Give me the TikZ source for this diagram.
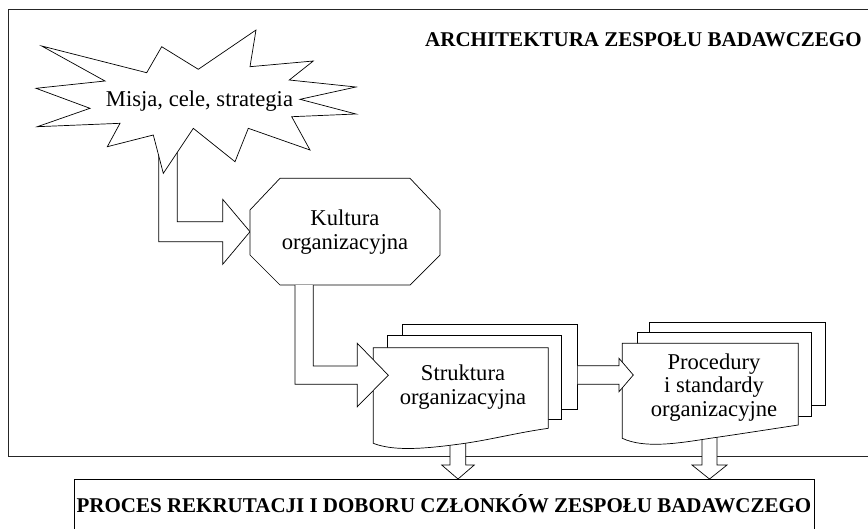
\documentclass[tikz,border=0pt]{standalone}
\usepackage{fontspec}
\setmainfont{Liberation Serif}
\begin{document}
\begin{tikzpicture}[x=1pt,y=-1pt,line width=0.7pt,line join=miter,
  shp/.style={draw=black,fill=white},
  blockarrow/.style={draw=black,fill=white},
  frm/.style={draw=black!85},
  txt/.style={font=\fontsize{22.6}{23.5}\selectfont,inner sep=0pt,align=center},
  ttl/.style={font=\bfseries\fontsize{21}{24}\selectfont,inner sep=0pt}]
\useasboundingbox (0,0) rectangle (868,528);
% frame and bottom box
\draw[frm] (8,9.5) rectangle (875,456.7);
\draw[black] (74,479) rectangle (814,540);
% down arrows
\draw[blockarrow] (450,430) -- (450,465) -- (441.7,465) -- (458,479) -- (474.3,465) -- (465.7,465) -- (465.7,430);
\draw[blockarrow] (702,420) -- (702,465) -- (692,465) -- (709.5,479) -- (727,465) -- (717,465) -- (717,420);
% arrow misja -> kultura
\draw[blockarrow] (158.7,140) -- (158.7,241.7) -- (222.7,241.7) -- (222.7,264.3) -- (250,231.7) -- (222.7,199.3) -- (222.7,221.7) -- (177.3,221.7) -- (177.3,140);
% star
\draw[shp] (41.7,46) -- (146.7,72.7) -- (161.7,46.7) -- (198.3,69.3) -- (256,30) -- (250,66.7)
  -- (313.3,61) -- (289.3,80) -- (356,87) -- (300,99.3) -- (356,114) -- (291.7,116.7)
  -- (310,150) -- (248.3,128.3) -- (235,161.7) -- (193.3,128.3) -- (163.3,173.3)
  -- (153.3,135) -- (107.3,146.7) -- (120,123.3) -- (37.3,126.7) -- (90,108.3)
  -- (36,88.3) -- (105,81) -- cycle;
% octagon
\draw[shp] (280,178.3) -- (410,178.3) -- (440,210) -- (440,255) -- (410,285) -- (280,285) -- (250,255) -- (250,210) -- cycle;
% Struktura stack
\draw[shp] (402.3,324.3) rectangle (577.7,409.3);
\draw[shp] (387.3,335) rectangle (561.7,419.3);
\draw[shp] (373.3,347.7) -- (548.3,347.7) -- (548.3,428.3) .. controls (515,433) and (490,440) .. (460,444) .. controls (430,448) and (395,452) .. (373.3,443.3) -- cycle;
% Procedury stack
\draw[shp] (649.3,322.3) rectangle (825,405);
\draw[shp] (637.3,332.7) rectangle (811,416);
\draw[shp] (622.3,343.3) -- (798.3,343.3) -- (798.3,425) .. controls (765,430) and (740,434) .. (710,438.3) .. controls (680,443) and (645,449) .. (622.3,438.3) -- cycle;
% arrow kultura -> struktura
\draw[blockarrow] (295,285) -- (295,384.3) -- (357.3,384.3) -- (357.3,406.7) -- (388.3,375.2) -- (357.3,343.3) -- (357.3,366) -- (313.3,366) -- (313.3,285);
% arrow struktura -> procedury
\draw[blockarrow] (577.7,365.7) -- (619,365.7) -- (619,358.3) -- (633.3,375) -- (619,391.7) -- (619,384.3) -- (577.7,384.3);
% texts
\node[txt,anchor=base] (misja) at (199.5,106.7) {Misja, cele, strategia};
\node[txt,anchor=north] (kultura) at (345,209.6) {Kultura\\organizacyjna};
\node[txt,anchor=north] (struktura) at (463,364.6) {Struktura\\organizacyjna};
\node[txt,anchor=north] (procedury) at (714,353) {Procedury\\i standardy\\organizacyjne};
\node[ttl,anchor=base east] (arch) at (862,46) {ARCHITEKTURA ZESPOŁU BADAWCZEGO};
\node[ttl,anchor=base] (proces) at (444,512) {PROCES REKRUTACJI I DOBORU CZŁONKÓW ZESPOŁU BADAWCZEGO};
\end{tikzpicture}
\end{document}
